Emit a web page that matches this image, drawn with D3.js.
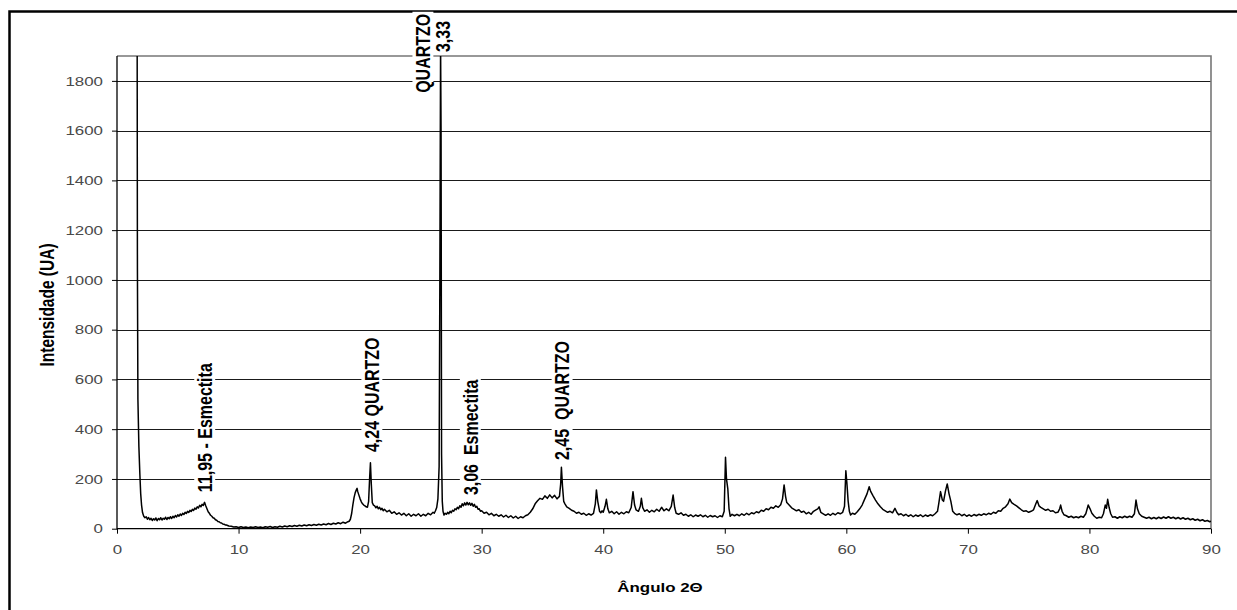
<!DOCTYPE html>
<html><head><meta charset="utf-8">
<script src="https://cdn.jsdelivr.net/npm/d3@7/dist/d3.min.js"></script>
<style>body{margin:0;background:#fff}svg{display:block}</style>
</head><body>
<svg id="chart" width="1237" height="610"></svg>
<script>
// ---- data ----
const yTicks = [0, 200, 400, 600, 800, 1000, 1200, 1400, 1600, 1800];
const xTicks = [0, 10, 20, 30, 40, 50, 60, 70, 80, 90];
const yTitle = "Intensidade (UA)";
const xTitle = "Ângulo 2Θ";

// [2θ (deg), intensity (UA)]
const pattern = [
[1.60,2500],[1.66,1900],[1.68,1050],[1.72,520],[1.80,330],[1.88,220],[1.95,140],[2.02,95],[2.10,65],[2.20,50],
[2.30,44],[2.40,48],[2.50,38],[2.60,45],[2.70,36],[2.80,42],[2.90,33],[3.00,40],[3.10,35],[3.20,43],
[3.30,32],[3.40,41],[3.50,36],[3.60,44],[3.70,35],[3.80,42],[3.90,38],[4.00,46],[4.10,37],[4.20,45],
[4.30,40],[4.40,48],[4.50,41],[4.60,50],[4.70,44],[4.80,53],[4.90,47],[5.00,56],[5.10,50],[5.20,59],
[5.30,53],[5.40,62],[5.50,57],[5.60,66],[5.70,61],[5.80,70],[5.90,65],[6.00,74],[6.10,69],[6.20,78],
[6.30,73],[6.40,83],[6.50,78],[6.60,88],[6.70,83],[6.80,94],[6.90,88],[7.00,98],[7.10,93],[7.20,106],
[7.30,92],[7.40,80],[7.50,68],[7.60,62],[7.70,54],[7.80,50],[7.90,44],[8.00,42],[8.10,36],[8.20,34],
[8.30,29],[8.40,28],[8.50,24],[8.60,23],[8.70,19],[8.80,18],[8.90,15],[9.00,15],[9.20,11],[9.40,10],
[9.60,7],[9.80,8],[10.00,5],[10.2,8],[10.4,5],[10.6,7],[10.8,4],[11.0,7],[11.2,5],[11.4,8],
[11.6,5],[11.8,7],[12.0,4],[12.2,8],[12.4,6],[12.6,9],[12.8,5],[13.0,8],[13.2,6],[13.4,10],
[13.6,7],[13.8,11],[14.0,8],[14.2,12],[14.4,9],[14.6,13],[14.8,10],[15.0,14],[15.2,11],[15.4,15],
[15.6,12],[15.8,16],[16.0,13],[16.2,17],[16.4,14],[16.6,18],[16.8,15],[17.0,19],[17.2,16],[17.4,21],
[17.6,17],[17.8,22],[18.0,19],[18.2,24],[18.4,20],[18.6,26],[18.8,22],[19.0,28],[19.1,30],[19.2,38],
[19.3,60],[19.4,95],[19.5,125],[19.6,145],[19.7,158],[19.75,162],[19.8,150],[19.9,135],[20.0,120],[20.1,108],
[20.2,100],[20.3,95],[20.4,92],[20.5,88],[20.6,86],[20.7,110],[20.78,200],[20.85,265],[20.92,180],[21.0,105],
[21.1,95],[21.2,92],[21.3,84],[21.4,90],[21.5,80],[21.6,86],[21.7,76],[21.8,82],[21.9,72],[22.0,78],
[22.2,68],[22.4,74],[22.6,62],[22.8,68],[23.0,58],[23.2,64],[23.4,55],[23.6,62],[23.8,52],[24.0,60],
[24.2,50],[24.4,58],[24.6,52],[24.8,60],[25.0,50],[25.2,58],[25.4,52],[25.6,62],[25.8,56],[26.0,66],
[26.1,62],[26.2,72],[26.3,85],[26.4,120],[26.5,250],[26.56,1000],[26.62,1950],[26.66,1600],[26.70,300],[26.76,110],
[26.82,70],[26.9,55],[27.0,62],[27.1,58],[27.2,66],[27.3,60],[27.4,70],[27.5,64],[27.6,74],[27.7,70],
[27.8,80],[27.9,76],[28.0,86],[28.1,80],[28.2,92],[28.3,86],[28.4,100],[28.5,92],[28.6,104],[28.7,95],
[28.8,106],[28.9,96],[29.0,104],[29.1,94],[29.2,102],[29.3,90],[29.4,98],[29.5,86],[29.6,90],[29.7,78],
[29.8,80],[29.9,70],[30.0,72],[30.2,62],[30.4,66],[30.6,56],[30.8,62],[31.0,52],[31.2,58],[31.4,50],
[31.6,56],[31.8,47],[32.0,54],[32.2,45],[32.4,52],[32.6,43],[32.8,50],[33.0,41],[33.2,48],[33.4,44],
[33.6,52],[33.8,56],[34.0,66],[34.2,80],[34.4,100],[34.6,112],[34.8,122],[35.0,118],[35.2,132],[35.4,122],
[35.6,136],[35.8,124],[36.0,134],[36.2,120],[36.4,130],[36.5,180],[36.56,247],[36.65,170],[36.75,110],[36.85,100],
[37.0,88],[37.2,82],[37.4,74],[37.6,70],[37.8,62],[38.0,66],[38.2,58],[38.4,62],[38.6,54],[38.8,60],
[39.0,55],[39.2,62],[39.35,100],[39.44,156],[39.55,110],[39.7,70],[39.8,64],[39.9,72],[40.0,66],[40.15,90],
[40.26,118],[40.38,80],[40.5,64],[40.7,70],[40.9,60],[41.1,68],[41.3,58],[41.5,66],[41.7,60],[41.9,68],
[42.1,64],[42.3,85],[42.45,149],[42.58,95],[42.7,76],[42.9,70],[43.05,90],[43.14,122],[43.25,85],[43.4,70],
[43.6,76],[43.8,66],[44.0,74],[44.2,68],[44.4,78],[44.6,70],[44.8,86],[45.0,72],[45.2,80],[45.4,72],
[45.6,90],[45.75,135],[45.88,85],[46.0,62],[46.2,58],[46.4,64],[46.6,54],[46.8,58],[47.0,50],[47.2,56],
[47.4,48],[47.6,55],[47.8,50],[48.0,56],[48.2,48],[48.4,54],[48.6,46],[48.8,53],[49.0,48],[49.2,52],
[49.4,45],[49.6,52],[49.8,48],[49.95,70],[50.06,287],[50.14,200],[50.25,160],[50.35,80],[50.45,50],[50.6,58],
[50.8,52],[51.0,58],[51.2,52],[51.4,60],[51.6,54],[51.8,62],[52.0,56],[52.2,64],[52.4,60],[52.6,68],
[52.8,64],[53.0,74],[53.2,70],[53.4,80],[53.6,76],[53.8,86],[54.0,82],[54.2,92],[54.4,86],[54.6,96],
[54.75,120],[54.88,176],[55.0,130],[55.1,105],[55.2,100],[55.35,92],[55.5,84],[55.7,78],[55.9,72],[56.1,76],
[56.3,66],[56.5,70],[56.7,60],[56.9,66],[57.1,58],[57.3,70],[57.5,76],[57.65,80],[57.76,88],[57.9,66],
[58.1,60],[58.3,54],[58.5,60],[58.7,54],[58.9,62],[59.1,56],[59.3,64],[59.5,60],[59.7,66],[59.85,90],
[59.96,233],[60.05,180],[60.15,110],[60.25,70],[60.35,55],[60.5,62],[60.7,58],[60.9,68],[61.1,80],[61.3,95],
[61.5,118],[61.7,140],[61.88,169],[62.0,150],[62.2,132],[62.4,115],[62.6,100],[62.8,88],[63.0,78],[63.2,72],
[63.4,66],[63.6,70],[63.8,64],[64.0,82],[64.15,66],[64.3,56],[64.5,60],[64.7,52],[64.9,58],[65.1,50],
[65.3,56],[65.5,48],[65.7,55],[65.9,50],[66.1,56],[66.3,48],[66.5,55],[66.7,50],[66.9,56],[67.1,52],
[67.3,60],[67.5,70],[67.6,100],[67.75,149],[67.9,115],[68.0,110],[68.15,150],[68.3,180],[68.45,140],[68.6,110],
[68.75,70],[68.9,62],[69.1,56],[69.3,60],[69.5,52],[69.7,58],[69.9,50],[70.1,56],[70.3,50],[70.5,57],
[70.7,52],[70.9,58],[71.1,54],[71.3,60],[71.5,56],[71.7,62],[71.9,58],[72.1,66],[72.3,62],[72.5,72],
[72.7,70],[72.9,82],[73.1,88],[73.3,100],[73.45,119],[73.6,105],[73.8,98],[74.0,92],[74.2,84],[74.4,76],
[74.6,70],[74.8,72],[75.0,66],[75.2,70],[75.4,76],[75.55,95],[75.7,113],[75.85,92],[76.0,86],[76.2,80],
[76.4,74],[76.6,78],[76.8,70],[77.0,72],[77.2,64],[77.4,66],[77.55,80],[77.63,95],[77.75,70],[77.9,56],
[78.1,52],[78.3,46],[78.5,50],[78.7,44],[78.9,48],[79.1,44],[79.3,50],[79.5,46],[79.7,60],[79.9,95],
[80.05,80],[80.2,62],[80.4,50],[80.6,42],[80.8,46],[81.0,44],[81.15,60],[81.3,95],[81.4,82],[81.5,118],
[81.62,85],[81.75,60],[81.9,46],[82.1,48],[82.3,42],[82.5,48],[82.7,44],[82.9,50],[83.1,45],[83.3,50],
[83.5,46],[83.7,60],[83.83,115],[83.95,80],[84.1,60],[84.3,50],[84.5,46],[84.7,42],[84.9,46],[85.1,40],
[85.3,45],[85.5,40],[85.7,46],[85.9,41],[86.1,47],[86.3,42],[86.5,48],[86.7,42],[86.9,46],[87.1,40],
[87.3,45],[87.5,39],[87.7,44],[87.9,38],[88.1,42],[88.3,36],[88.5,40],[88.7,34],[88.9,38],[89.1,32],
[89.3,36],[89.5,30],[89.7,33],[89.9,28],[90.0,30]
];

// peak annotations: label, 2θ position, intensity where the label starts
const annLabels = ["11,95 - Esmectita", "4,24 QUARTZO", "3,06  Esmectita", "2,45  QUARTZO", "QUARTZO", "3,33"];
const annTheta  = [7.2, 20.95, 29.05, 36.6, 25.15, 26.8];
const annStart  = [147, 308, 135, 276, 1752, 1916];

// ---- layout ----
const L = 117, R = 1211, T = 56, B = 528.7;
const SX = 1.3; // horizontal stretch of the original picture's lettering
const svg = d3.select("#chart");
const x = d3.scaleLinear().domain([0, 90]).range([L, R]);
const y = d3.scaleLinear().domain([0, 1900]).range([B, T]);

// outer frame
svg.append("rect").attr("x", 9.5).attr("y", 11.5).attr("width", 1240).attr("height", 610)
  .attr("fill", "none").attr("stroke", "#000").attr("stroke-width", 2.5);

// gridlines
svg.append("g").selectAll("line").data(yTicks.filter(d => d > 0)).join("line")
  .attr("x1", L).attr("x2", R)
  .attr("y1", d => Math.round(y(d)) + 0.5).attr("y2", d => Math.round(y(d)) + 0.5)
  .attr("stroke", "#1a1a1a").attr("stroke-width", 1);

// plot frame top / right (gray)
svg.append("path").attr("d", `M${L},${T}H${R}V${B}`).attr("fill", "none")
  .attr("stroke", "#777").attr("stroke-width", 1.6);

// axes
const yAxis = svg.append("g").attr("transform", `translate(${L},0)`)
  .call(d3.axisLeft(y).tickValues(yTicks).tickSize(5).tickFormat(d3.format("d")));
const xAxis = svg.append("g").attr("transform", `translate(0,${B})`)
  .call(d3.axisBottom(x).tickValues(xTicks).tickSize(5).tickPadding(11).tickFormat(d3.format("d")));
[yAxis, xAxis].forEach(a => {
  a.select(".domain").remove();
  a.selectAll(".tick line").attr("stroke", "#000");
  a.selectAll(".tick text").attr("fill", "#4a4a4a")
    .style("font-family", "'Liberation Sans', Arial, sans-serif").style("font-size", "13px");
});
yAxis.selectAll(".tick text").attr("x", -14 / SX).attr("transform", `scale(${SX},1)`);
xAxis.selectAll(".tick text").attr("transform", `scale(${SX},1)`);
svg.append("line").attr("x1", L).attr("x2", L).attr("y1", T).attr("y2", B + 0.5).attr("stroke", "#000").attr("stroke-width", 1.3);
svg.append("line").attr("x1", L).attr("x2", R).attr("y1", B).attr("y2", B).attr("stroke", "#000").attr("stroke-width", 1.3);

// data
svg.append("clipPath").attr("id", "plotclip").append("rect")
  .attr("x", L).attr("y", T).attr("width", R - L).attr("height", B - T);
svg.append("path").datum(pattern)
  .attr("clip-path", "url(#plotclip)")
  .attr("fill", "none").attr("stroke", "#000").attr("stroke-width", 1.5).attr("stroke-linejoin", "round")
  .attr("d", d3.line().x(d => x(d[0])).y(d => y(d[1])));

// annotations (rotated, white background)
annLabels.forEach((lab, i) => {
  const g = svg.append("g")
    .attr("transform", `translate(${x(annTheta[i])},${y(annStart[i])}) scale(${SX},1) rotate(-90)`);
  const bg = g.append("rect").attr("fill", "#fff");
  const t = g.append("text").text(lab)
    .attr("x", 0).attr("y", 0).attr("dy", "0.36em")
    .style("white-space", "pre")
    .style("font-family", "'Liberation Sans', Arial, sans-serif")
    .style("font-weight", "bold").style("font-size", "16px").attr("fill", "#000");
  const bb = t.node().getBBox();
  bg.attr("x", bb.x - 2).attr("y", bb.y + 1).attr("width", bb.width + 4).attr("height", bb.height - 2);
});

// axis titles
svg.append("text").text(yTitle)
  .attr("transform", `translate(47,305) scale(${SX},1) rotate(-90)`)
  .attr("text-anchor", "middle").attr("dy", "0.36em")
  .style("font-family", "'Liberation Sans', Arial, sans-serif").style("font-weight", "bold").style("font-size", "15.5px");
svg.append("text").text(xTitle)
  .attr("transform", `translate(660,592) scale(${SX},1)`)
  .attr("text-anchor", "middle")
  .style("font-family", "'Liberation Sans', Arial, sans-serif").style("font-weight", "bold").style("font-size", "13px");
</script>
</body></html>
